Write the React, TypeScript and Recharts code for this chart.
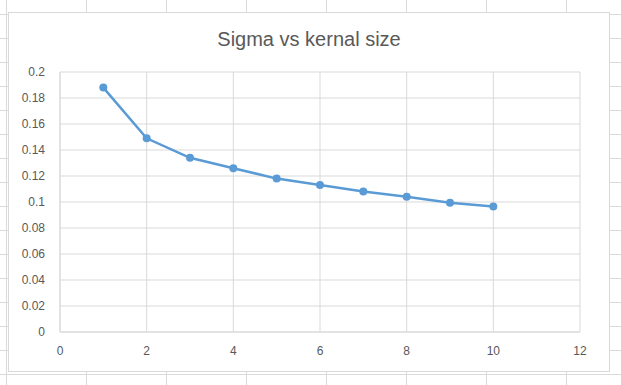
import React from 'react';
import { LineChart, Line, XAxis, YAxis, CartesianGrid } from 'recharts';

// kernel size vs sigma
const kernelSizes = [1, 2, 3, 4, 5, 6, 7, 8, 9, 10];
const sigmaValues = [0.188, 0.149, 0.134, 0.126, 0.118, 0.113, 0.108, 0.104, 0.0995, 0.0965];
const xTicks = [0, 2, 4, 6, 8, 10, 12];
const yTicks = [0, 0.02, 0.04, 0.06, 0.08, 0.1, 0.12, 0.14, 0.16, 0.18, 0.2];

const data = kernelSizes.map((k, i) => ({ k, sigma: sigmaValues[i] }));

const W = 621;
const H = 385;
const cellLine = '#dadada';
const grid = '#d9d9d9';
const textColor = '#595959';
const font = '"Liberation Sans", Arial, sans-serif';

// spreadsheet cells behind the chart object
const SheetGrid: React.FC = () => {
  const cols: number[] = [];
  for (let x = 6.5; x < W; x += 80) cols.push(x);
  const rows: number[] = [];
  for (let y = 14.5; y < H; y += 24) rows.push(y);
  return (
    <svg width={W} height={H} style={{ position: 'absolute', left: 0, top: 0 }}>
      {cols.map((x) => (
        <line key={'c' + x} x1={x} x2={x} y1={0} y2={H} stroke={cellLine} />
      ))}
      {rows.map((y) => (
        <line key={'r' + y} x1={0} x2={W} y1={y} y2={y} stroke={cellLine} />
      ))}
    </svg>
  );
};

const App: React.FC = () => {
  return (
    <div style={{ position: 'fixed', left: 0, top: 0, width: W, height: H, background: '#fff', fontFamily: font }}>
      <SheetGrid />
      <div
        style={{
          position: 'absolute',
          left: 8,
          top: 12,
          width: 600,
          height: 358,
          background: '#fff',
          border: `1px solid ${grid}`,
        }}
      />
      <div
        style={{
          position: 'absolute',
          left: 8,
          top: 27,
          width: 602,
          textAlign: 'center',
          fontSize: 20,
          color: textColor,
          lineHeight: '24px',
        }}
      >
        Sigma vs kernal size
      </div>
      <div style={{ position: 'absolute', left: 0, top: 0 }}>
        <LineChart width={W} height={H} data={data} margin={{ top: 72, right: 41, bottom: 23, left: 0 }}>
          <CartesianGrid stroke={grid} strokeWidth={1} />
          <XAxis
            dataKey="k"
            type="number"
            domain={[0, 12]}
            ticks={xTicks}
            height={30}
            tickLine={false}
            tickSize={0}
            tickMargin={14}
            axisLine={{ stroke: grid }}
            tick={{ fill: textColor, fontSize: 12, fontFamily: font }}
          />
          <YAxis
            type="number"
            domain={[0, 0.2]}
            ticks={yTicks}
            width={60}
            tickLine={false}
            tickSize={0}
            tickMargin={15}
            axisLine={{ stroke: grid }}
            tick={{ fill: textColor, fontSize: 12, fontFamily: font }}
          />
          <Line
            type="linear"
            dataKey="sigma"
            stroke="#5b9bd5"
            strokeWidth={2.5}
            dot={{ r: 4, fill: '#5b9bd5', stroke: '#5b9bd5', strokeWidth: 0 }}
            isAnimationActive={false}
          />
        </LineChart>
      </div>
    </div>
  );
};

export default App;
